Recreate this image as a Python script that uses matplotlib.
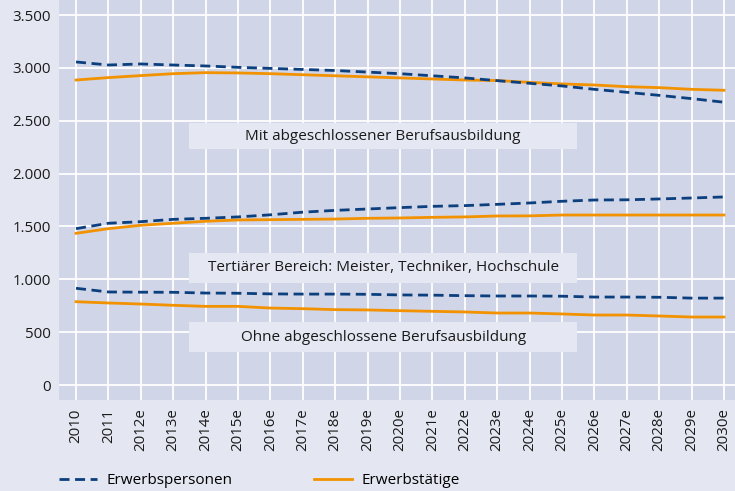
import matplotlib
matplotlib.use("Agg")
import matplotlib.pyplot as plt
from matplotlib.patches import Rectangle
from matplotlib.lines import Line2D

years = list(range(2010, 2031))
year_labels = ["2010", "2011"] + [f"{y}e" for y in range(2012, 2031)]

# Mit abgeschlossener Berufsausbildung
mit_personen = [3056, 3027, 3037, 3027, 3018, 3005, 2995, 2985, 2975, 2960, 2945,
                2925, 2905, 2879, 2854, 2829, 2797, 2769, 2740, 2709, 2675]
mit_taetige = [2885, 2908, 2927, 2945, 2955, 2952, 2945, 2935, 2925, 2915, 2905,
               2895, 2885, 2880, 2863, 2848, 2838, 2822, 2813, 2797, 2788]

# Tertiärer Bereich
tert_personen = [1479, 1530, 1545, 1567, 1577, 1590, 1610, 1635, 1652, 1665, 1678,
                 1690, 1697, 1709, 1722, 1738, 1750, 1752, 1760, 1769, 1779]
tert_taetige = [1435, 1479, 1511, 1530, 1549, 1561, 1564, 1567, 1570, 1577, 1580,
                1586, 1590, 1599, 1600, 1608, 1608, 1608, 1608, 1608, 1608]

# Ohne abgeschlossene Berufsausbildung
ohne_personen = [915, 880, 878, 877, 870, 868, 862, 860, 860, 858, 852,
                 850, 845, 842, 842, 840, 832, 832, 830, 822, 822]
ohne_taetige = [788, 776, 766, 754, 744, 744, 728, 722, 713, 710, 703,
                697, 691, 681, 681, 672, 662, 662, 653, 643, 643]

group_labels = ["Mit abgeschlossener Berufsausbildung",
                "Tertiärer Bereich: Meister, Techniker, Hochschule",
                "Ohne abgeschlossene Berufsausbildung"]
label_boxes_y = [(2230, 2478), (968, 1246), (315, 593)]

navy = "#0b3f7e"
orange = "#f39200"
fig_bg = "#e4e6f1"
ax_bg = "#d0d5e7"

plt.rcParams["font.family"] = ["Open Sans", "DejaVu Sans"]

fig = plt.figure(figsize=(7.35, 4.91), dpi=100, facecolor=fig_bg)
ax = fig.add_axes([0.0803, 0.1853, 0.9197, 0.8147])
ax.set_facecolor(ax_bg)

for s in ax.spines.values():
    s.set_visible(False)

ax.set_xlim(2009.475, 2030.34)
ax.set_ylim(-142, 3642)
ax.set_xticks(years)
ax.set_xticklabels(year_labels, rotation=90, fontsize=10.8, color="#1a1a1a")
ax.set_yticks(range(0, 3501, 500))
ax.set_yticklabels(["0", "500", "1.000", "1.500", "2.000", "2.500", "3.000", "3.500"],
                   fontsize=10.8, color="#1a1a1a")
ax.tick_params(length=0, pad=6)
ax.grid(True, color="white", lw=1.3)
ax.set_axisbelow(True)

# label boxes
for txt, (y0, y1) in zip(group_labels, label_boxes_y):
    ax.add_patch(Rectangle((2013.49, y0), 11.98, y1 - y0, facecolor="#e5e8f3",
                           edgecolor="none", zorder=2))
    ax.text(2013.49 + 11.98 / 2, (y0 + y1) / 2, txt, ha="center", va="center",
            fontsize=11, color="#1a1a1a", zorder=3)

dash = (3.6, 2.0)
for pers, taet in [(mit_personen, mit_taetige), (tert_personen, tert_taetige),
                   (ohne_personen, ohne_taetige)]:
    ax.plot(years, taet, color=orange, lw=2.0, zorder=4)
    ax.plot(years, pers, color=navy, lw=2.0, ls=(0, dash), zorder=5)

handles = [Line2D([], [], color=navy, lw=2.0, ls=(0, dash)),
           Line2D([], [], color=orange, lw=2.0)]
fig.legend(handles, ["Erwerbspersonen", "Erwerbstätige"], loc="lower left",
           bbox_to_anchor=(0.061, -0.022), ncol=2, frameon=False, fontsize=11,
           handlelength=2.5, columnspacing=5.3, handletextpad=0.65)

fig.savefig("out.png", dpi=100, facecolor=fig_bg)
